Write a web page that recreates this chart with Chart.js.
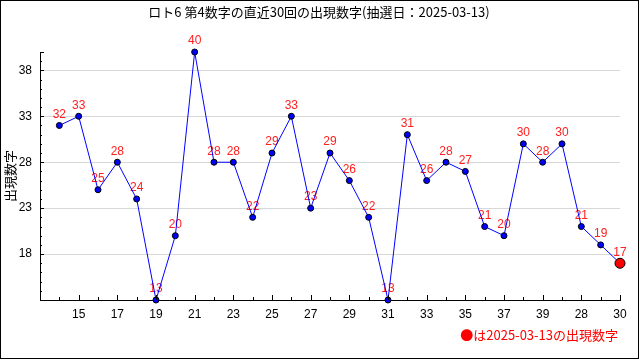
<!DOCTYPE html>
<html><head><meta charset="utf-8">
<script src="https://cdn.jsdelivr.net/npm/chart.js@4/dist/chart.umd.min.js"></script>
<style>html,body{margin:0;padding:0;background:#fff}#c{display:block}</style>
</head><body>
<div style="width:640px;height:360px"><canvas id="c" width="640" height="360"></canvas></div>
<script>
const titleText = 'ロト6 第4数字の直近30回の出現数字(抽選日：2025-03-13)';
const yTitle = '出現数字';
const noteText = '●は2025-03-13の出現数字';
const xLabels = ['14','15','16','17','18','19','20','21','22','23','24','25','26','27','28','29','30','31','32','33','34','35','36','37','38','39','27','28','29','30'];
const values = [32,33,25,28,24,13,20,40,28,28,22,29,33,23,29,26,22,13,31,26,28,27,21,20,30,28,30,21,19,17];
const yMajor = [18,23,28,33,38];

const JP = "'Noto Sans CJK JP', sans-serif";
const NUM = "'Liberation Sans Narrow', 'Liberation Sans', sans-serif";
const lastIdx = values.length - 1;

const deco = {
  id: 'deco',
  beforeDatasetsDraw(chart) {
    const ctx = chart.ctx;
    const meta = chart.getDatasetMeta(0);
    ctx.save();
    ctx.fillStyle = '#ff2020';
    ctx.font = '12px ' + NUM;
    ctx.textAlign = 'center';
    ctx.textBaseline = 'middle';
    meta.data.forEach((pt, i) => {
      ctx.fillText(String(values[i]), pt.x, pt.y - 11);
    });
    ctx.restore();
  },
  afterDraw(chart) {
    const ctx = chart.ctx;
    const xs = chart.scales.x, ys = chart.scales.y;
    ctx.save();
    // inward tick marks
    ctx.strokeStyle = '#000';
    ctx.lineWidth = 1;
    ctx.beginPath();
    for (let v = 13; v <= 40; v++) {
      const y = Math.round(ys.getPixelForValue(v)) + 0.5;
      const len = (yMajor.includes(v) || v === 40) ? 4 : 2;
      ctx.moveTo(xs.left, y); ctx.lineTo(xs.left + len, y);
    }
    for (let i = 0; i < xLabels.length; i++) {
      const x = Math.round(xs.getPixelForValue(i)) + 0.5;
      const len = (i % 2 === 1) ? 5 : 3;
      ctx.moveTo(x, ys.bottom); ctx.lineTo(x, ys.bottom - len);
    }
    ctx.stroke();
    // title
    ctx.fillStyle = '#000';
    ctx.font = '13px ' + JP;
    ctx.textAlign = 'center';
    ctx.textBaseline = 'middle';
    ctx.fillText(titleText, 319, 12);
    // y title
    ctx.save();
    ctx.translate(10, 176);
    ctx.rotate(-Math.PI / 2);
    ctx.font = '13px ' + JP;
    ctx.fillText(yTitle, 0, 0);
    ctx.restore();
    // note
    ctx.fillStyle = '#ff0000';
    ctx.font = '13px ' + JP;
    ctx.textAlign = 'right';
    ctx.fillText(noteText, 618, 335);
    // frame
    ctx.strokeStyle = '#000';
    ctx.strokeRect(0.5, 0.5, 638, 358);
    ctx.restore();
  }
};

new Chart(document.getElementById('c'), {
  type: 'line',
  data: {
    datasets: [{
      data: values.map((v, i) => ({x: i, y: v})),
      borderColor: '#0000ff',
      borderWidth: 1,
      tension: 0,
      clip: false,
      pointRadius: ctx => ctx.dataIndex === lastIdx ? 5 : 3,
      pointHoverRadius: ctx => ctx.dataIndex === lastIdx ? 5 : 3,
      pointBackgroundColor: ctx => ctx.dataIndex === lastIdx ? '#ff0000' : '#0000ff',
      pointBorderColor: '#000',
      pointBorderWidth: 1
    }]
  },
  options: {
    responsive: false,
    animation: false,
    events: [],
    layout: {padding: {left: 0, right: 20, top: 52, bottom: 0}},
    plugins: {legend: {display: false}, title: {display: false}, tooltip: {enabled: false}},
    scales: {
      x: {
        type: 'linear', min: -1, max: 29,
        afterFit(s) { s.height = 60; },
        afterBuildTicks(s) { s.ticks = xLabels.map((_, i) => ({value: i})); },
        grid: {display: false, drawTicks: false},
        border: {display: true, color: '#000', width: 1},
        ticks: {
          autoSkip: false, maxRotation: 0, padding: 7,
          color: '#000', font: {size: 12, family: NUM},
          callback: v => (v % 2 === 1 ? xLabels[v] : '')
        }
      },
      y: {
        min: 13, max: 40,
        afterFit(s) { s.width = 40; },
        afterBuildTicks(s) { s.ticks = yMajor.map(v => ({value: v})); },
        grid: {color: '#d8d8d8', drawTicks: false},
        border: {display: true, color: '#000', width: 1},
        ticks: {
          padding: 8, color: '#000', font: {size: 12, family: NUM},
          callback: v => String(v)
        }
      }
    }
  },
  plugins: [deco]
});
</script>
</body></html>
